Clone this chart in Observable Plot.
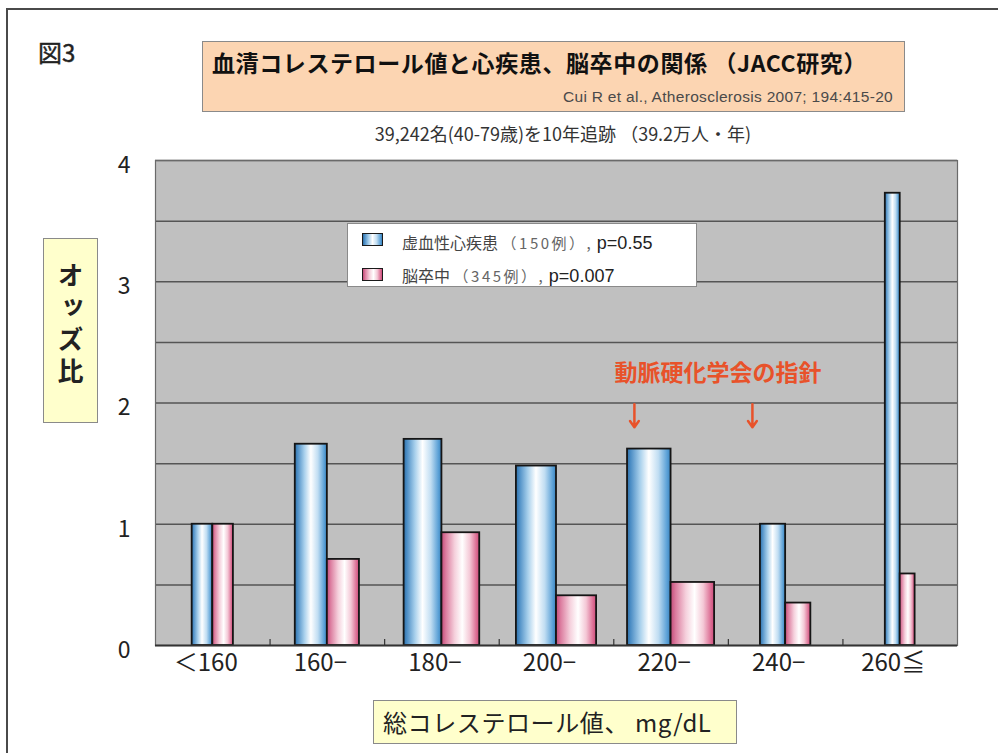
<!DOCTYPE html>
<html><head><meta charset="utf-8">
<script src="https://cdn.jsdelivr.net/npm/d3@7"></script>
<script src="https://cdn.jsdelivr.net/npm/@observablehq/plot@0.6"></script>
<style>
html,body{margin:0;padding:0;background:#fff;}
#fig{position:relative;width:998px;height:753px;overflow:hidden;background:#fff;font-family:"Noto Sans CJK JP","Noto Sans",sans-serif;color:#222;}
#frame{position:absolute;left:6px;top:8px;width:1010px;height:800px;border:2px solid #4a4a4a;box-sizing:border-box;}
#fig svg{position:absolute;left:0;top:0;}
.abs{position:absolute;white-space:nowrap;line-height:1;}
#fignum{left:38px;top:40px;font-size:24px;font-weight:400;color:#222;-webkit-text-stroke:0.4px #222;}
#titlebox{left:202px;top:41px;width:703px;height:71px;background:#fcd5b2;border:1px solid #8a8a8a;box-sizing:border-box;}
#title{left:212px;top:51px;font-size:23px;font-weight:700;color:#111;letter-spacing:0.6px;}
#cite{right:105px;top:89px;font-size:15.5px;color:#4a4a4a;font-family:"Liberation Sans",Arial,sans-serif;letter-spacing:0.3px;}
#subtitle{left:563px;top:124px;transform:translateX(-50%);font-size:18px;color:#333;}
#ybox{left:43px;top:238px;width:55px;height:185px;background:#ffffcc;border:1px solid #8a8a8a;box-sizing:border-box;}
#ylab{left:57px;top:262px;font-size:26px;font-weight:700;writing-mode:vertical-rl;text-orientation:upright;letter-spacing:6px;color:#222;}
#xbox{left:373px;top:700px;width:364px;height:44px;background:#ffffcc;border:1px solid #8a8a8a;box-sizing:border-box;}
#xlab{left:383px;top:710px;font-size:24px;color:#222;letter-spacing:0.6px;}
#legend{left:347px;top:223px;width:350px;height:64px;background:#fff;border:1px solid #8a8a8a;box-sizing:border-box;}
.sw{position:absolute;width:21px;height:13px;border:1.8px solid #1a1a1a;box-sizing:border-box;}
.lt{position:absolute;white-space:nowrap;line-height:1;font-size:16px;color:#444;}
.lt .n{color:#666;font-size:15px;letter-spacing:2.5px;}
.lt .p{color:#222;font-family:"Liberation Sans",Arial,sans-serif;font-size:18px;}
</style>
</head><body>
<div id="fig"><div id="frame"></div></div>
<script>
// ---- data ----
const categories = ["＜160", "160−", "180−", "200−", "220−", "240−", "260≦"];
const chdOdds    = [1.00, 1.66, 1.70, 1.48, 1.62, 1.00, 3.73];   // 虚血性心疾患
const strokeOdds = [1.00, 0.71, 0.93, 0.41, 0.52, 0.35, 0.59];   // 脳卒中
const yTicks = [0, 1, 2, 3, 4];
const seriesNames = ["虚血性心疾患", "脳卒中"];
const seriesCases = ["（150例）", "（345例）"];
const seriesP = ["p=0.55", "p=0.007"];

// ---- style / layout ----
const barShare = [0.18, 0.28, 0.33, 0.35, 0.38, 0.22, 0.13]; // width of each bar as share of its category band
const blueStops = [[0, "#2c6ea6"], [0.08, "#4a8cc4"], [0.3, "#a8d0ec"], [0.5, "#ffffff"], [0.72, "#c0ddf2"], [0.92, "#5aa0d6"], [1, "#3a82bc"]];
const pinkStops = [[0, "#c44a78"], [0.12, "#dc7ea0"], [0.35, "#f5d0dc"], [0.55, "#ffffff"], [0.75, "#f4c8d6"], [0.95, "#d8608a"], [1, "#c85080"]];
const guideNote = {label: "動脈硬化学会の指針", x: 4.91, y: 2.24};
const guideArrows = [{x: 4.18}, {x: 5.21}];

const rows = categories.map((c, i) => ({i, c, chd: chdOdds[i], str: strokeOdds[i], w: barShare[i]}));
const gridVals = d3.range(0.5, 4.01, 0.5);

function defsMark() {
  const ns = "http://www.w3.org/2000/svg";
  const defs = document.createElementNS(ns, "defs");
  for (const [id, stops] of [["gBlue", blueStops], ["gPink", pinkStops]]) {
    const lg = document.createElementNS(ns, "linearGradient");
    lg.setAttribute("id", id);
    lg.setAttribute("x1", "0"); lg.setAttribute("y1", "0");
    lg.setAttribute("x2", "1"); lg.setAttribute("y2", "0");
    for (const [o, col] of stops) {
      const s = document.createElementNS(ns, "stop");
      s.setAttribute("offset", o);
      s.setAttribute("stop-color", col);
      lg.appendChild(s);
    }
    defs.appendChild(lg);
  }
  return defs;
}

const chart = Plot.plot({
  width: 998,
  height: 753,
  marginLeft: 155,
  marginRight: 41,
  marginTop: 160,
  marginBottom: 108,
  style: {fontFamily: '"Noto Sans CJK JP", "Noto Sans", sans-serif', background: "transparent", overflow: "visible", color: "#222"},
  x: {type: "linear", domain: [0, categories.length], axis: null},
  y: {domain: [0, 4], axis: null},
  marks: [
    defsMark,
    Plot.frame({fill: "#c0c0c0"}),
    Plot.ruleY(gridVals, {stroke: "#555", strokeWidth: 1.5}),
    Plot.rect(rows, {x1: d => d.i + 0.5 - d.w, x2: d => d.i + 0.5, y1: 0, y2: "chd", fill: "url(#gBlue)", stroke: "#151515", strokeWidth: 1.8}),
    Plot.rect(rows, {x1: d => d.i + 0.5, x2: d => d.i + 0.5 + d.w, y1: 0, y2: "str", fill: "url(#gPink)", stroke: "#151515", strokeWidth: 1.8}),
    Plot.frame({stroke: "#6a6a6a", strokeWidth: 1.2}),
    Plot.ruleY([0], {stroke: "#333", strokeWidth: 2}),
    Plot.ruleX(d3.range(1, categories.length), {y1: 0, y2: 0.05, stroke: "#333", strokeWidth: 1.2}),
    Plot.axisX(d3.range(categories.length).map(i => i + 0.5), {
      tickFormat: d => categories[Math.floor(d)], tickSize: 0, tickPadding: 8, fontSize: 24, dx: -7, label: null, fill: "#222"
    }),
    Plot.axisY(yTicks, {tickSize: 0, tickPadding: 25, fontSize: 23, dy: 5, label: null, fill: "#222", tickFormat: d => String(d)}),
    Plot.text([guideNote], {x: "x", y: "y", text: "label", fill: "#e8522a", fontSize: 23, fontWeight: "bold"}),
    Plot.arrow(guideArrows, {x1: "x", x2: "x", y1: 1.99, y2: 1.80, stroke: "#e8522a", strokeWidth: 2.5, headLength: 7, headAngle: 70})
  ]
});

const fig = document.getElementById("fig");
fig.appendChild(chart);

function add(html) {
  const t = document.createElement("template");
  t.innerHTML = html.trim();
  const el = t.content.firstChild;
  fig.appendChild(el);
  return el;
}
add(`<div class="abs" id="fignum">図3</div>`);
add(`<div class="abs" id="titlebox"></div>`);
add(`<div class="abs" id="title">血清コレステロール値と心疾患、脳卒中の関係 （JACC研究）</div>`);
add(`<div class="abs" id="cite">Cui R et al., Atherosclerosis 2007; 194:415-20</div>`);
add(`<div class="abs" id="subtitle">39,242名(40-79歳)を10年追跡 （39.2万人・年)</div>`);
add(`<div class="abs" id="ybox"></div>`);
add(`<div class="abs" id="ylab">オッズ比</div>`);
add(`<div class="abs" id="xbox"></div>`);
add(`<div class="abs" id="xlab">総コレステロール値、 mg/dL</div>`);

const grad = stops => `linear-gradient(to right, ${stops.map(([o, c]) => `${c} ${o * 100}%`).join(", ")})`;
const legend = add(`<div class="abs" id="legend"></div>`);
[blueStops, pinkStops].forEach((stops, k) => {
  const sw = document.createElement("div");
  sw.className = "sw";
  sw.style.left = "14px";
  sw.style.top = (k === 0 ? 9 : 44) + "px";
  sw.style.background = grad(stops);
  legend.appendChild(sw);
  const lt = document.createElement("div");
  lt.className = "lt";
  lt.style.left = "54px";
  lt.style.top = (k === 0 ? 10 : 43) + "px";
  lt.innerHTML = `${seriesNames[k]} <span class="n">${seriesCases[k]},</span> <span class="p">${seriesP[k]}</span>`;
  legend.appendChild(lt);
});
</script>
</body></html>
